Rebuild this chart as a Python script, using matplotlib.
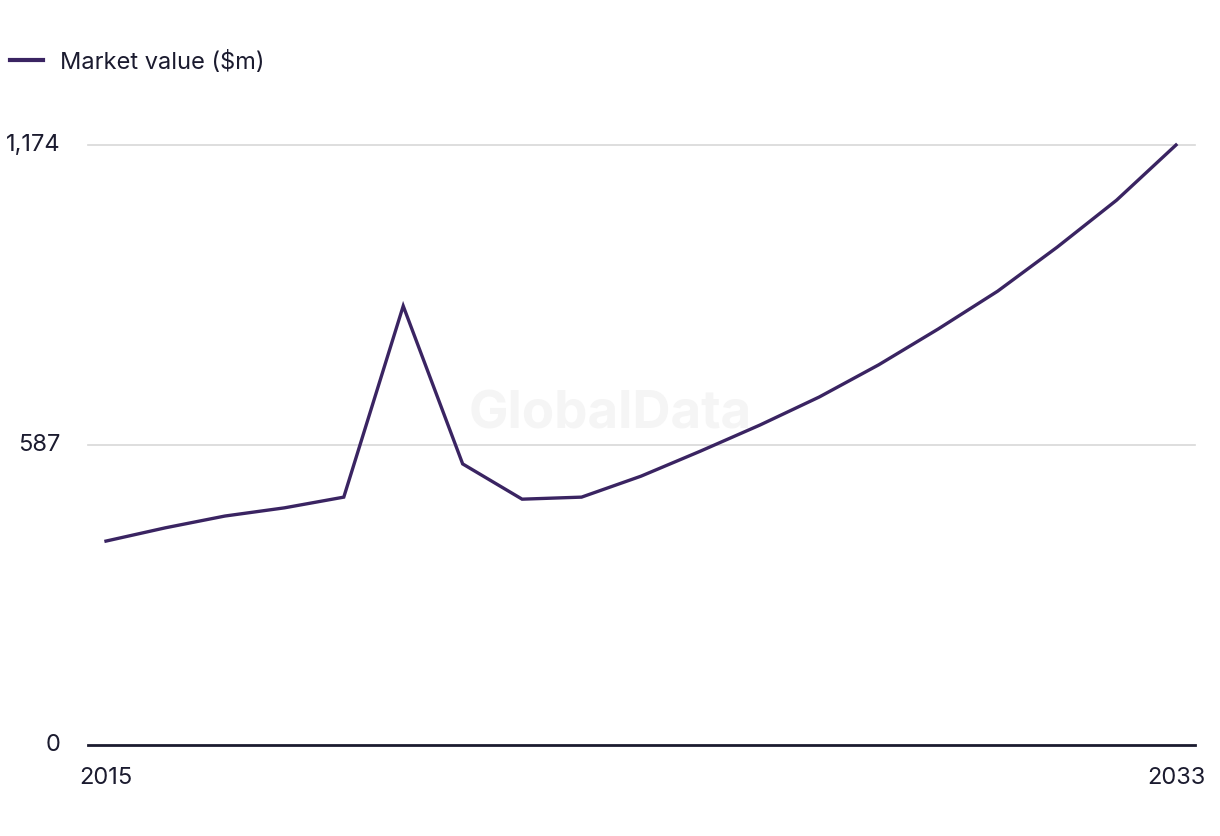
import matplotlib
matplotlib.use("Agg")
import matplotlib.pyplot as plt
from matplotlib.lines import Line2D

plt.rcParams['font.family'] = ['Inter', 'DejaVu Sans']

years = list(range(2015, 2034))
market_value = [399, 425, 448, 464, 485, 859, 550, 481, 485, 526, 575, 626, 681,
                744, 814, 888, 974, 1066, 1174]
y_ticks = [0, 587, 1174]
y_tick_labels = ["0", "587", "1,174"]
x_ticks = [2015, 2033]
x_tick_labels = ["2015", "2033"]
series_label = "Market value ($m)"

W, H = 1220, 836
fig = plt.figure(figsize=(W / 100, H / 100), dpi=100)
ax = fig.add_axes([88 / W, (H - 745) / H, (1195 - 88) / W, 600 / H])

line_color = "#3a2462"
text_color = "#1b1b2f"

ax.plot(years, market_value, color=line_color, lw=2.4, clip_on=False,
        solid_joinstyle='miter', zorder=3)
ax.set_xlim(2015 - 18 / 59.44, 2033 + 19 / 59.44)
ax.set_ylim(0, 1174)

ax.set_yticks(y_ticks)
ax.set_yticklabels(y_tick_labels)
ax.set_xticks(x_ticks)
ax.set_xticklabels(x_tick_labels)
ax.tick_params(axis='both', length=0, labelsize=17, colors=text_color)
ax.tick_params(axis='y', pad=19.5)
ax.tick_params(axis='x', pad=16)
for lab in ax.get_yticklabels():
    lab.set_verticalalignment('center')

for v in y_ticks[1:]:
    ax.axhline(v, color="#d8d8d8", lw=1.2, zorder=1, clip_on=False)

for s in ['top', 'right', 'left']:
    ax.spines[s].set_visible(False)
ax.spines['bottom'].set_color(text_color)
ax.spines['bottom'].set_linewidth(2)
ax.spines['bottom'].set_zorder(4)

fig.text(610 / W, 1 - 415 / H, "GlobalData", fontsize=38, fontweight='bold',
         color="#f5f5f5", ha='center', va='center', zorder=0)

handle = Line2D([], [], color=line_color, lw=3)
fig.legend([handle], [series_label], loc='center left',
           bbox_to_anchor=(1 / W, 1 - 62 / H), frameon=False, fontsize=17,
           handlelength=1.36, handletextpad=0.72, borderaxespad=0,
           labelcolor=text_color)

fig.savefig("out.png", dpi=100, facecolor='white')
